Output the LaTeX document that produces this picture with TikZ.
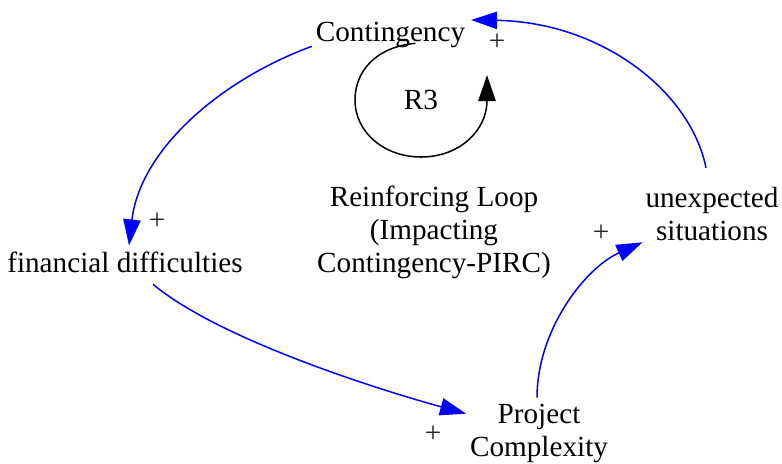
\documentclass[tikz,border=0pt]{standalone}
\usepackage{fontspec}
\setmainfont{Liberation Serif}
\usetikzlibrary{arrows.meta,calc}
\begin{document}
\begin{tikzpicture}[x=0.5pt,y=-0.5pt,
  lbl/.style={inner sep=0pt, outer sep=0pt, align=center,
    font=\fontsize{14.6pt}{16.5pt}\selectfont, anchor=base},
  sign/.style={lbl, text=black!85},
  tip/.style={-{Triangle[length=13pt,width=8.7pt]}},
  link/.style={tip, draw=blue, line width=0.75pt},
  selfloop/.style={tip, draw=black, line width=0.75pt}]
\useasboundingbox (0,0) rectangle (782,463);

% variables (multi-line labels sit on the baseline of their last line)
\node[lbl] (cont) at (390.5,41) {Contingency};
\node[lbl] (fin)  at (125,272) {financial difficulties};
\node[lbl] (proj) at (539,456) {Project\\Complexity};
\node[lbl] (unex) at (712,240) {unexpected\\situations};
\node[lbl] (r3)   at (421,109) {R3};
\node[lbl] (name) at (434,272) {Reinforcing Loop\\(Impacting\\Contingency-PIRC)};

% polarity signs
\node[sign] (s1) at (157,229) {+};
\node[sign] (s2) at (433,442) {+};
\node[sign] (s3) at (601,241) {+};
\node[sign] (s4) at (497,50)  {+};

% causal links
\draw[link] ($(cont.south west)+(-4,-1)$)
  .. controls (220,80) and (140,150) .. ($(fin.north)+(4,-6)$);
\draw[link] ($(fin.south)+(28,12)$)
  .. controls (220,340) and (380,390) .. ($(proj.north west)+(-4,10)$);
\draw[link] ($(proj.north)+(-2,-6)$)
  .. controls (537,330) and (585,268) .. ($(unex.south west)+(-3,2)$);
\draw[link] ($(unex.north)+(-6,-19)$)
  .. controls (690,90) and (600,22) .. ($(cont.north east)+(6,-1.7)$);

% loop marker around R3
\draw[selfloop] ($(cont.south)+(25,-4)$)
  .. controls (375,47) and (355,72) .. (355,100)
  .. controls (355,133) and (385,157) .. (421,157)
  .. controls (460,157) and (487,130) .. ($(r3.base)+(66,-34)$);
\end{tikzpicture}
\end{document}
